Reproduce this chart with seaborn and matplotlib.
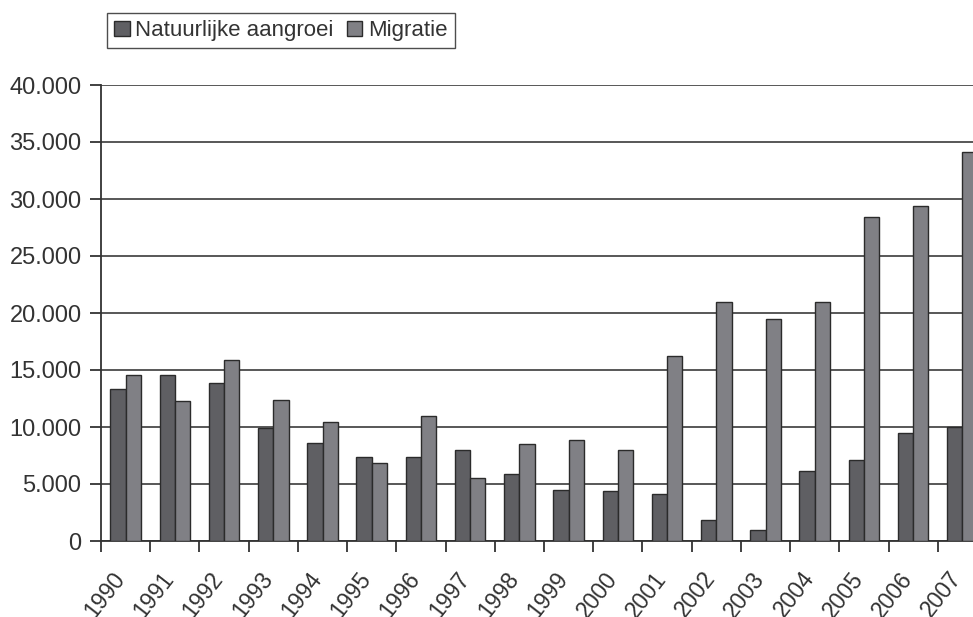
import pandas as pd
import matplotlib.pyplot as plt
import seaborn as sns

# data
years = [str(y) for y in range(1990, 2008)]
natuurlijk = [13300, 14600, 13850, 9900, 8600, 7400, 7400, 7950, 5900,
              4500, 4350, 4100, 1800, 1000, 6150, 7100, 9500, 10000]
migratie = [14600, 12300, 15900, 12400, 10400, 6800, 11000, 5500, 8500,
            8850, 8000, 16200, 21000, 19450, 21000, 28450, 29350, 34100]
series = ["Natuurlijke aangroei", "Migratie"]
colors = ["#5f5f63", "#808085"]

df = pd.DataFrame({"jaar": years, "Natuurlijke aangroei": natuurlijk, "Migratie": migratie})
df_long = df.melt(id_vars="jaar", var_name="reeks", value_name="aantal")

sns.set_style("white")
plt.rcParams["font.family"] = ["Liberation Sans", "DejaVu Sans"]

fig = plt.figure(figsize=(9.73, 6.17), dpi=100)
# axes is wider than the figure on purpose: the last bar is cut at the right edge
ax = fig.add_axes([101 / 973, 76 / 617, 886 / 973, 456 / 617])

sns.barplot(data=df_long, x="jaar", y="aantal", hue="reeks", hue_order=series,
            palette=colors, saturation=1, width=0.62, edgecolor="#2b2b2b",
            linewidth=1.0, ax=ax, zorder=3)

ax.set_ylim(0, 40000)
ax.set_xlim(-0.5, 17.5)
ax.set_yticks(range(0, 40001, 5000))
ax.set_yticklabels(["0" if v == 0 else f"{v // 1000}.000" for v in range(0, 40001, 5000)],
                   fontsize=17, color="#333333")
ax.yaxis.grid(True, color="#4a4a4a", linewidth=1.3, zorder=0)
ax.set_axisbelow(True)
ax.tick_params(axis="y", length=8, width=1.3, color="#333333", pad=6, left=True)

# tick marks between categories, labels at the centres
ax.set_xticks([i - 0.5 for i in range(18)], minor=True)
ax.tick_params(axis="x", which="minor", length=8, width=1.3, color="#333333", bottom=True)
ax.tick_params(axis="x", which="major", length=0, pad=27)
for lbl in ax.get_xticklabels():
    lbl.set_rotation(52)
    lbl.set_ha("right")
    lbl.set_va("baseline")
    lbl.set_rotation_mode("anchor")
    lbl.set_fontsize(16.5)
    lbl.set_color("#333333")

for s in ["top", "right"]:
    ax.spines[s].set_visible(False)
for s in ["left", "bottom"]:
    ax.spines[s].set_color("#333333")
    ax.spines[s].set_linewidth(1.3)

ax.set_xlabel("")
ax.set_ylabel("")

ax.get_legend().remove()
handles, labels = ax.get_legend_handles_labels()
leg = fig.legend(handles, labels, loc="upper left", bbox_to_anchor=(107 / 973, 1 - 13 / 617),
                 ncol=2, fontsize=16, frameon=True, fancybox=False, handlelength=0.7,
                 handleheight=0.7, handletextpad=0.25, columnspacing=0.6, borderpad=0.32,
                 borderaxespad=0)
leg.get_frame().set_edgecolor("#222222")
leg.get_frame().set_linewidth(1.0)
for t in leg.get_texts():
    t.set_color("#333333")

fig.savefig("out.png", dpi=100)
